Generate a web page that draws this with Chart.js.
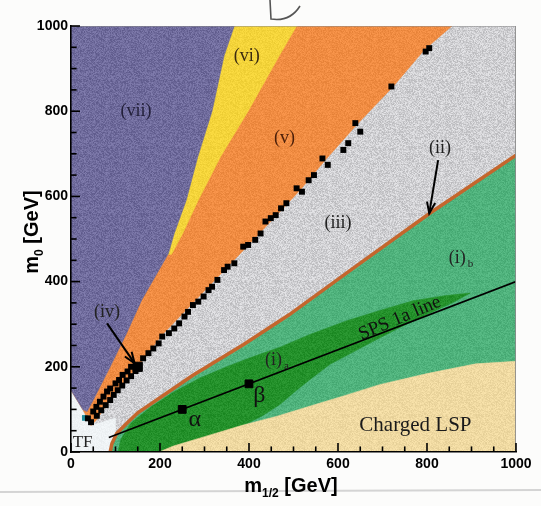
<!DOCTYPE html>
<html><head><meta charset="utf-8">
<script src="https://cdn.jsdelivr.net/npm/chart.js@4/dist/chart.umd.min.js"></script>
<style>html,body{margin:0;padding:0;background:#fcfcfb;}canvas{display:block;}</style>
</head><body>
<canvas id="c" width="541" height="506"></canvas>
<script>
// ---- axis ticks ----
const xTickValues = [0, 200, 400, 600, 800, 1000];
const yTickValues = [0, 200, 400, 600, 800, 1000];
const minorTickStep = 50;

// ---- region outlines (m1/2, m0) in GeV ----
const regionIII = [[0,0],[1000,0],[1000,1000],[0,1000]];
const regionTF = [[0,0],[100,0],[100,80],[45,62],[0,145]];
const regionV = [[0,1000],[856,1000],[794,944],[724,858],[641,767],[572,686],[515,615],[473,568],[410,498],[352,435],[274,350],[205,275],[150,200],[96,135],[57,75],[45,62],[27,99],[0,145]];
const regionVI = [[300,1000],[507,1000],[468,930],[398,800],[336,693],[286,591],[251,513],[226,464],[150,464],[150,1000]];
const regionVII = [[0,1000],[367,1000],[344,930],[317,800],[285,693],[259,591],[232,513],[219,466],[159,357],[125,279],[88,200],[50,122],[36,95],[27,99],[0,145]];
const regionIb = [[88,0],[92,20],[103,44],[130,72],[150,92],[274,180],[387,252],[490,322],[643,438],[807,561],[1000,697],[1000,0]];
const regionIa = [[106,0],[112,30],[135,68],[180,106],[230,140],[290,174],[350,200],[410,224],[470,246],[537,276],[620,308],[700,334],[769,355],[840,367],[897,373],[860,352],[807,326],[750,298],[694,268],[640,238],[582,206],[537,170],[508,146],[470,112],[430,85],[387,62],[312,35],[238,12],[200,0]];
const regionLSP = [[198,0],[230,14],[300,36],[383,62],[463,84],[538,108],[620,134],[693,158],[800,184],[910,207],[1000,213],[1000,0]];
const lineII = [[88,0],[92,20],[103,44],[130,72],[150,92],[274,180],[387,252],[490,322],[643,438],[807,561],[1000,697]];
const lineSPS1a = [[85,34],[1000,400]];
const pointsAlphaBeta = [[250,100],[400,160]];
const squaresIV = [[38,79],[50,95],[57,106],[65,118],[73,130],[81,142],[88,149],[100,161],[108,169],[116,181],[127,189],[135,200],
  [45,70],[58,85],[68,98],[78,110],[88,122],[96,134],[105,145],[115,156],[125,168],[135,178],[145,190],
  [162,220],[174,232],[185,243],[197,255],[205,271],[220,279],[232,290],[243,302],[255,318],[263,329],[274,345],[286,353],
  [298,365],[309,380],[317,388],[329,404],[344,427],[352,435],[367,443],[387,482],[398,486],[414,498],[426,513],[437,541],
  [449,549],[460,556],[472,572],[484,584],[507,619],[519,611],[534,638],[546,650],[565,689],[577,674],[612,709],[623,725],
  [639,772],[650,752],[720,858],[797,940],[805,948]];
const squareIVbig = [[150,200]];
const squareTeal = [[31,80]];
const arrowIV = [[81,302],[143,208]];
const arrowII = [[825,685],[805,560]];

// ---- annotation text (positions in GeV) ----
const textLabels = [
  {t:'(vii)', x:146, y:799, c:'#23203a'},
  {t:'(vi)', x:395, y:928, c:'#3a2a10'},
  {t:'(v)', x:480, y:736, c:'#4a1e08'},
  {t:'(iii)', x:600, y:538, c:'#222'},
  {t:'(ii)', x:829, y:713, c:'#222'},
  {t:'(iv)', x:81, y:329, c:'#222'},
  {t:'TF', x:26, y:22, c:'#222', s:17},
  {t:'α', x:278, y:76, c:'#111', s:24},
  {t:'β', x:423, y:132, c:'#111', s:24},
  {t:'Charged LSP', x:774, y:63, c:'#1a1a1a', s:21}
];
const subLabels = [
  {t:'(i)', sub:'b', x:868, y:455},
  {t:'(i)', sub:'a', x:455, y:216}
];

const pts = a => a.map(p => ({x:p[0], y:p[1]}));

// scanned-print speckle texture (deterministic hash, styling only)
function speckle(hex, amp){
  const n = 67, cv = document.createElement('canvas'); cv.width = n; cv.height = n;
  const g = cv.getContext('2d'), im = g.createImageData(n, n);
  const r0 = parseInt(hex.slice(1,3),16), g0 = parseInt(hex.slice(3,5),16), b0 = parseInt(hex.slice(5,7),16);
  for (let j = 0; j < n; j++) for (let i = 0; i < n; i++) {
    const h = Math.sin(i*12.9898 + j*78.233) * 43758.5453, f = (h - Math.floor(h)) - 0.5;
    const k = (j*n + i)*4, d = f*amp;
    im.data[k] = Math.max(0, Math.min(255, r0 + d));
    im.data[k+1] = Math.max(0, Math.min(255, g0 + d));
    im.data[k+2] = Math.max(0, Math.min(255, b0 + d));
    im.data[k+3] = 255;
  }
  g.putImageData(im, 0, 0);
  return g.createPattern(cv, 'repeat');
}
function poly(data, color, order, amp){
  return {data:pts(data), showLine:true, fill:'shape', backgroundColor:speckle(color, amp), borderColor:color, borderWidth:0.6,
    pointRadius:0, order:order, tension:0};
}
// inner tick marks drawn as short 'line' point glyphs, sitting just inside the axes
const tickVals = [];
for (let v = 0; v <= 1000; v += minorTickStep) tickVals.push(v);
const isMajor = v => xTickValues.includes(v);
const bottomTickDs = {
  data: tickVals.map(v => ({x:v, y: isMajor(v) ? 10.6 : 6.5})), showLine:false, pointStyle:'line',
  pointRotation:90, pointRadius: tickVals.map(v => isMajor(v) ? 4.5 : 2.8), pointBorderWidth:1.6,
  borderColor:'#000', backgroundColor:'#000', order:0, clip:false
};
const leftTickDs = {
  data: tickVals.map(v => ({x: isMajor(v) ? 10.1 : 6.3, y:v})), showLine:false, pointStyle:'line',
  pointRotation:0, pointRadius: tickVals.map(v => isMajor(v) ? 4.5 : 2.8), pointBorderWidth:1.6,
  borderColor:'#000', backgroundColor:'#000', order:0, clip:false
};
const serif = '"Liberation Serif", "DejaVu Serif", serif';
const sans = '"Liberation Sans", Arial, sans-serif';

const decor = {
  id:'decor',
  beforeDraw(chart){
    const c = chart.ctx;
    c.save(); c.fillStyle = '#fcfcfb'; c.fillRect(0,0,chart.width,chart.height);
    c.strokeStyle = '#d4d4d4'; c.lineWidth = 2;
    c.beginPath(); c.moveTo(0,492); c.lineTo(541,490); c.stroke();
    c.strokeStyle = '#555'; c.lineWidth = 1.6;
    c.beginPath(); c.moveTo(270,0); c.lineTo(271,19); c.quadraticCurveTo(290,22,300,6); c.stroke();
    c.restore();
  },
  afterDatasetsDraw(chart){
    const c = chart.ctx, xs = chart.scales.x, ys = chart.scales.y;
    c.save();
    function arrow(d){
      const x1 = xs.getPixelForValue(d[0][0]), y1 = ys.getPixelForValue(d[0][1]);
      const x2 = xs.getPixelForValue(d[1][0]), y2 = ys.getPixelForValue(d[1][1]);
      const ang = Math.atan2(y2-y1, x2-x1), h = 12;
      c.strokeStyle = '#000'; c.lineWidth = 2;
      c.beginPath();
      c.moveTo(x2 - h*Math.cos(ang-0.35), y2 - h*Math.sin(ang-0.35));
      c.lineTo(x2, y2);
      c.lineTo(x2 - h*Math.cos(ang+0.35), y2 - h*Math.sin(ang+0.35));
      c.stroke();
    }
    arrow(arrowIV); arrow(arrowII);
    c.textAlign = 'center'; c.textBaseline = 'middle';
    textLabels.forEach(l => {
      c.font = (l.s || 18) + 'px ' + serif; c.fillStyle = l.c;
      c.fillText(l.t, xs.getPixelForValue(l.x), ys.getPixelForValue(l.y));
    });
    subLabels.forEach(l => {
      const px = xs.getPixelForValue(l.x), py = ys.getPixelForValue(l.y);
      c.font = '18px ' + serif; c.fillStyle = '#222'; c.textAlign = 'center';
      c.fillText(l.t, px, py);
      const w = c.measureText(l.t).width;
      c.font = '11px ' + serif; c.textAlign = 'left';
      c.fillText(l.sub, px + w/2 + 2, py + 6);
    });
    const sx = xs.getPixelForValue(739), sy = ys.getPixelForValue(314);
    c.save(); c.translate(sx, sy); c.rotate(-23*Math.PI/180);
    c.font = '19px ' + serif; c.fillStyle = '#111'; c.textAlign = 'center';
    c.fillText('SPS 1a line', 0, 0); c.restore();
    c.restore();
  },
  afterDraw(chart){
    const c = chart.ctx;
    c.save();
    c.fillStyle = '#000'; c.textBaseline = 'alphabetic'; c.textAlign = 'left';
    function title(main, sub, rest, cx, cy, rot){
      c.save(); c.translate(cx, cy); if (rot) c.rotate(rot);
      c.font = 'bold 20px ' + sans; const w1 = c.measureText(main).width;
      c.font = 'bold 12px ' + sans; const w2 = c.measureText(sub).width;
      c.font = 'bold 20px ' + sans; const w3 = c.measureText(rest).width;
      let x = -(w1 + w2 + w3)/2;
      c.fillText(main, x, 7); x += w1;
      c.font = 'bold 12px ' + sans; c.fillText(sub, x, 12); x += w2;
      c.font = 'bold 20px ' + sans; c.fillText(rest, x, 7);
      c.restore();
    }
    title('m', '1/2', ' [GeV]', 291, 485, 0);
    title('m', '0', ' [GeV]', 31, 232, -Math.PI/2);
    c.restore();
  }
};

new Chart(document.getElementById('c'), {
  type:'line',
  data:{datasets:[
    bottomTickDs,
    leftTickDs,
    {data:pts([[0,1000],[1000,1000],[1000,0]]), showLine:true, fill:false, borderColor:'#8a8a8a', borderWidth:1, pointRadius:0, order:0},
    {data:pts(pointsAlphaBeta), showLine:false, pointStyle:'rect', pointRadius:5.5, backgroundColor:'#000', borderColor:'#000', order:1},
    {data:pts(lineSPS1a), showLine:true, fill:false, borderColor:'#000', borderWidth:1.7, pointRadius:0, order:2},
    {data:pts(arrowIV), showLine:true, fill:false, borderColor:'#000', borderWidth:2, pointRadius:0, order:2},
    {data:pts(arrowII), showLine:true, fill:false, borderColor:'#000', borderWidth:2, pointRadius:0, order:2},
    {data:pts(squareIVbig), showLine:false, pointStyle:'rect', pointRadius:6.5, backgroundColor:'#000', borderColor:'#000', order:3},
    {data:pts(squaresIV), showLine:false, pointStyle:'rect', pointRadius:4.2, backgroundColor:'#000', borderColor:'#000', borderWidth:0, order:4},
    {data:pts(squareTeal), showLine:false, pointStyle:'rect', pointRadius:4, backgroundColor:'#1f8c9c', borderWidth:0, order:5},
    {data:pts(lineII), showLine:true, fill:false, borderColor:'#c4662d', borderWidth:3.5, pointRadius:0, order:6},
    poly(regionLSP, '#efd9a1', 7, 22),
    poly(regionIa, '#23902a', 8, 22),
    poly(regionIb, '#4fb27c', 9, 24),
    poly(regionVII, '#6f6b9c', 10, 36),
    poly(regionVI, '#f4d43a', 11, 18),
    poly(regionV, '#f08c42', 12, 22),
    poly(regionTF, '#eff3f5', 13, 10),
    poly(regionIII, '#cfcfd2', 14, 46)
  ]},
  options:{
    responsive:false, animation:false, events:[], devicePixelRatio:1,
    layout:{padding:{top:26, right:25, left:0, bottom:0}},
    plugins:{legend:{display:false}, tooltip:{enabled:false}},
    scales:{
      x:{type:'linear', min:0, max:1000,
        afterBuildTicks(s){ s.ticks = xTickValues.map(v => ({value:v})); },
        ticks:{color:'#000', padding:4, maxRotation:0, font:{family:sans, weight:'bold', size:14}, callback:v => String(v)},
        grid:{display:false, drawTicks:false}, border:{display:true, color:'#000', width:1.6, z:2},
        afterFit(s){ s.height = 54; }},
      y:{type:'linear', min:0, max:1000,
        afterBuildTicks(s){ s.ticks = yTickValues.map(v => ({value:v})); },
        ticks:{color:'#000', padding:3, font:{family:sans, weight:'bold', size:14}, callback:v => String(v)},
        grid:{display:false, drawTicks:false}, border:{display:true, color:'#000', width:1.6, z:2},
        afterFit(s){ s.width = 71; }}
    }
  },
  plugins:[decor]
});
</script>
</body></html>
